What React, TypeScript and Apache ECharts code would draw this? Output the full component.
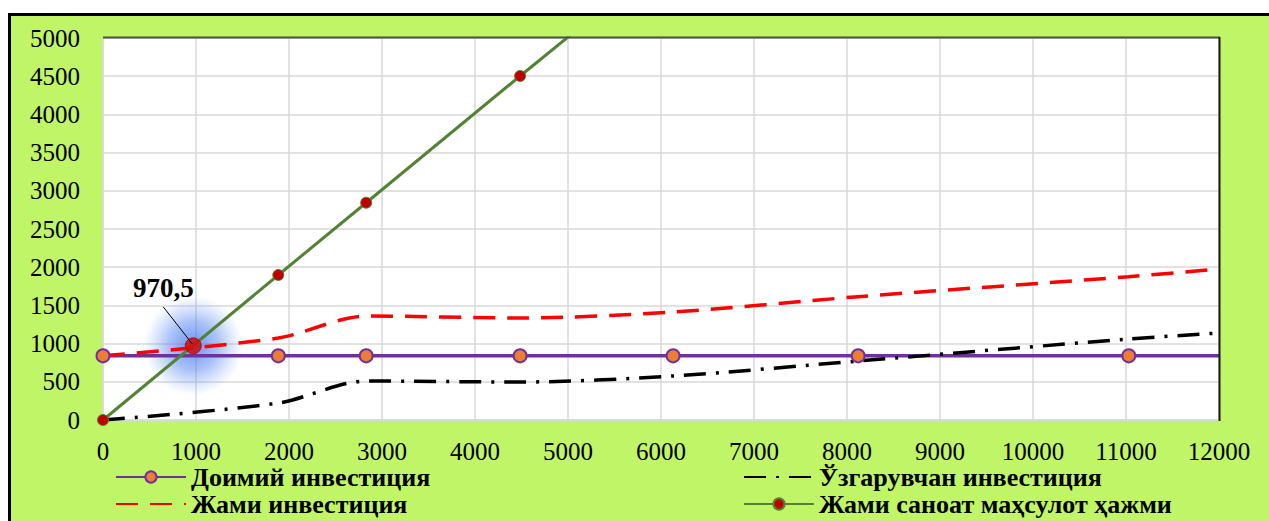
import React, { useEffect, useRef } from "react";
import * as echarts from "echarts";

// X values (shared production volume points)
const xValues = [0, 1885, 2830, 4485, 6130, 8120, 11030, 12000];
// Доимий инвестиция (constant investment)
const constantInv = [840, 840, 840, 840, 840, 840, 840, 840];
// Ўзгарувчан инвестиция (variable investment)
const variableInv = [0, 222, 510, 497, 576, 772, 1060, 1139];
// Жами инвестиция (total investment)
const totalInv = [840, 1073, 1361, 1335, 1413, 1614, 1876, 1976];
// Жами саноат маҳсулот ҳажми (total industrial output)
const productX = [0, 1885, 2830, 4485, 6130];
const productY = [0, 1898, 2844, 4503, 6130];
// Break-even point
const breakEven = [970.5, 970.5];
const breakEvenLabel = "970,5";

const seriesNames = [
  "Доимий инвестиция",
  "Ўзгарувчан инвестиция",
  "Жами инвестиция",
  "Жами саноат маҳсулот ҳажми",
];

const FONT = "'Liberation Serif', 'Times New Roman', serif";

export default function App() {
  const ref = useRef<HTMLDivElement>(null);
  useEffect(() => {
    document.body.style.margin = "0";
    document.body.style.overflow = "hidden";
    const chart = echarts.init(ref.current!, null, { renderer: "svg" });
    const baseGraphic: any[] = [
      {
        type: "rect",
        z: -10,
        shape: { x: 9.5, y: 14.5, width: 1300, height: 530 },
        style: { fill: "#BFF566", stroke: "#000", lineWidth: 3 },
      },
      {
        type: "line",
        z: 100,
        shape: { x1: 103, y1: 37.5, x2: 1220, y2: 37.5 },
        style: { stroke: "#4a5540", lineWidth: 2 },
      },
      {
        type: "line",
        z: 100,
        shape: { x1: 1219.5, y1: 37, x2: 1219.5, y2: 421 },
        style: { stroke: "#1a1a1a", lineWidth: 2 },
      },
    ];
    const label = {
      fontFamily: FONT,
      fontSize: 25,
      color: "#000",
      lineHeight: 22,
      formatter: (v: number) => String(v),
    };
    const legendText = {
      fontFamily: FONT,
      fontSize: 26,
      fontWeight: "bold",
      color: "#000",
      lineHeight: 22,
    };
    const hiddenSymbol = {
      color: "rgba(0,0,0,0)",
      borderColor: "rgba(0,0,0,0)",
      borderWidth: 0,
      opacity: 0,
    };
    const mkLegend = (name: string, left: number, top: number, noSymbol: boolean) => ({
      data: [noSymbol ? { name, itemStyle: hiddenSymbol } : { name }],
      left,
      top,
      padding: 0,
      itemWidth: 70,
      itemHeight: 14,
      textStyle: legendText,
    });
    const option: any = {
      animation: false,
      backgroundColor: "#fff",
      grid: {
        left: 103,
        right: 50,
        top: 38,
        bottom: 101,
        show: true,
        backgroundColor: "#fff",
        borderColor: "#d9d9d9",
        borderWidth: 1,
      },
      xAxis: {
        type: "value",
        min: 0,
        max: 12000,
        interval: 1000,
        axisLine: { show: true, lineStyle: { color: "#d9d9d9" } },
        axisTick: { show: false },
        splitLine: { show: true, lineStyle: { color: "#d9d9d9", width: 1.5 } },
        axisLabel: { ...label, margin: 20 },
      },
      yAxis: {
        type: "value",
        min: 0,
        max: 5000,
        interval: 500,
        axisLine: { show: false },
        axisTick: { show: false },
        splitLine: { show: true, lineStyle: { color: "#d9d9d9", width: 1.5 } },
        axisLabel: { ...label, margin: 23 },
      },
      legend: [
        mkLegend(seriesNames[0], 115, 464, false),
        mkLegend(seriesNames[1], 743, 464, true),
        mkLegend(seriesNames[2], 115, 491, true),
        mkLegend(seriesNames[3], 743, 491, false),
      ],
      series: [
        {
          name: "glow",
          type: "scatter",
          z: 1,
          silent: true,
          data: [breakEven],
          symbol: "circle",
          symbolSize: 100,
          itemStyle: {
            color: new echarts.graphic.RadialGradient(0.5, 0.5, 0.5, [
              { offset: 0, color: "rgba(60,110,235,0.95)" },
              { offset: 0.5, color: "rgba(80,130,240,0.6)" },
              { offset: 1, color: "rgba(120,160,245,0)" },
            ]),
          },
        },
        {
          name: seriesNames[0],
          type: "line",
          z: 3,
          data: xValues.map((x, i) =>
            i === xValues.length - 1
              ? { value: [x, constantInv[i]], symbol: "none" }
              : [x, constantInv[i]]
          ),
          symbol: "circle",
          symbolSize: 13,
          lineStyle: { color: "#7030A0", width: 3.5 },
          itemStyle: { color: "#ED7D31", borderColor: "#7030A0", borderWidth: 2 },
        },
        {
          name: seriesNames[1],
          type: "line",
          z: 3,
          smooth: 0.3,
          data: xValues.map((x, i) => [x, variableInv[i]]),
          symbol: "none",
          lineStyle: { color: "#000", width: 3.5, type: [22, 10, 3, 10] },
          itemStyle: { color: "#000" },
        },
        {
          name: seriesNames[2],
          type: "line",
          z: 3,
          smooth: 0.3,
          data: xValues.map((x, i) => [x, totalInv[i]]),
          symbol: "none",
          lineStyle: { color: "#FF0000", width: 3.5, type: [22, 12] },
          itemStyle: { color: "#FF0000" },
        },
        {
          name: seriesNames[3],
          type: "line",
          z: 4,
          clip: true,
          data: productX.map((x, i) => [x, productY[i]]),
          symbol: "circle",
          symbolSize: 11,
          lineStyle: { color: "#548235", width: 3 },
          itemStyle: { color: "#C00000", borderColor: "#548235", borderWidth: 1 },
        },
        {
          name: "breakeven",
          type: "scatter",
          z: 5,
          data: [breakEven],
          symbol: "circle",
          symbolSize: 16,
          itemStyle: { color: "#D90000", borderColor: "#B00000", borderWidth: 1 },
        },
      ],
      graphic: baseGraphic,
    };
    chart.setOption(option);
    const p = chart.convertToPixel({ gridIndex: 0 }, breakEven) as number[];
    chart.setOption({
      graphic: [
        ...baseGraphic,
        {
          type: "line",
          z: 100,
          shape: { x1: p[0] - 30, y1: p[1] - 39, x2: p[0] - 1, y2: p[1] - 2 },
          style: { stroke: "#000", lineWidth: 1 },
        },
        {
          type: "text",
          z: 100,
          x: p[0] - 30,
          y: p[1] - 58,
          style: {
            text: breakEvenLabel,
            fontFamily: FONT,
            fontSize: 27,
            fontWeight: "bold",
            fill: "#000",
            align: "center",
            verticalAlign: "middle",
          },
        },
      ],
    });
    return () => chart.dispose();
  }, []);
  return (
    <div
      ref={ref}
      style={{ position: "fixed", left: 0, top: 0, width: 1269, height: 521 }}
    />
  );
}
